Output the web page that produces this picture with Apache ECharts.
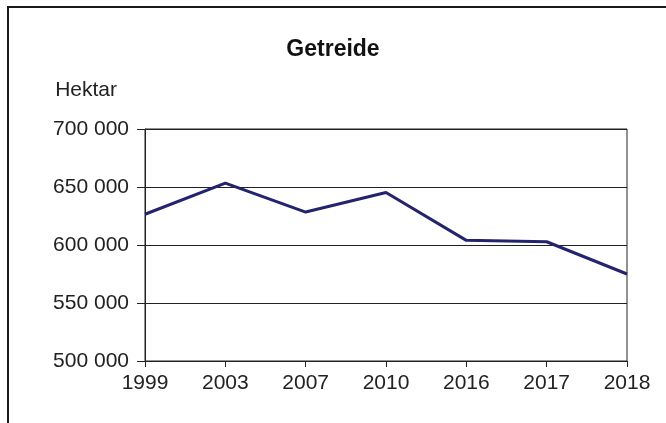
<!DOCTYPE html>
<html>
<head>
<meta charset="utf-8">
<script src="https://cdn.jsdelivr.net/npm/echarts@6/dist/echarts.min.js"></script>
<style>html,body{margin:0;padding:0;background:#fff}#c{width:666px;height:423px}</style>
</head>
<body>
<div id="c"></div>
<script>
const categories = ['1999', '2003', '2007', '2010', '2016', '2017', '2018'];
const getreide = [626500, 653300, 628400, 645300, 604000, 602800, 575000];
const yTicks = { min: 500000, max: 700000, interval: 50000 };
const titleText = 'Getreide';
const unitText = 'Hektar';

const chart = echarts.init(document.getElementById('c'), null, { renderer: 'canvas' });
const font = '"Liberation Sans", Arial, sans-serif';
chart.setOption({
  animation: false,
  backgroundColor: '#fff',
  title: {
    text: titleText, left: 'center', top: 33,
    textStyle: { fontFamily: font, fontSize: 23, fontWeight: 'bold', color: '#111' }
  },
  graphic: [{
    type: 'rect', shape: { x: 8, y: 7, width: 800, height: 600 },
    style: { fill: 'none', stroke: '#1a1a1a', lineWidth: 2 }, silent: true
  }],
  grid: { left: 145, right: 39, top: 129, height: 232, show: true, borderColor: '#222', borderWidth: 1, backgroundColor: 'transparent' },
  xAxis: {
    type: 'category', data: categories, boundaryGap: false,
    axisLine: { lineStyle: { color: '#222', width: 1 } },
    axisTick: { show: true, length: 6, inside: false, lineStyle: { color: '#222' } },
    axisLabel: { fontFamily: font, fontSize: 21, color: '#222', margin: 12 },
    splitLine: { show: false }
  },
  yAxis: {
    type: 'value', min: yTicks.min, max: yTicks.max, interval: yTicks.interval,
    name: unitText, nameLocation: 'end', nameGap: 28,
    nameTextStyle: { fontFamily: font, fontSize: 21, color: '#222', align: 'right', padding: [0, 28, 0, 0] },
    axisLine: { show: true, lineStyle: { color: '#222', width: 1 } },
    axisTick: { show: true, length: 8, lineStyle: { color: '#222' } },
    axisLabel: {
      fontFamily: font, fontSize: 21, color: '#222', margin: 16,
      formatter: v => String(v).replace(/\B(?=(\d{3})+(?!\d))/g, ' ')
    },
    splitLine: { show: true, lineStyle: { color: '#222', width: 1 } }
  },
  series: [{
    type: 'line', data: getreide, symbol: 'none',
    lineStyle: { color: '#24246e', width: 3 }
  }]
});
</script>
</body>
</html>
